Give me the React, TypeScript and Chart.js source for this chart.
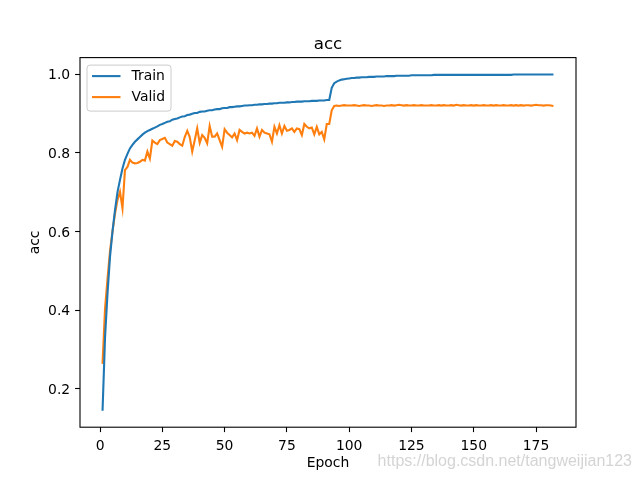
import React, { useEffect, useRef } from "react";
import { Chart, registerables } from "chart.js";

Chart.register(...registerables);

const chartTitle = "acc";
const xLabel = "Epoch";
const yLabel = "acc";
const seriesNames = ["Train", "Valid"];
const xTicks = [0, 25, 50, 75, 100, 125, 150, 175];
const yTicks = [0.2, 0.4, 0.6, 0.8, 1.0];
const watermark = "https://blog.csdn.net/tangweijian123";

const trainAcc = [
  0.144, 0.33, 0.443, 0.536, 0.6, 0.654, 0.7, 0.731, 0.76, 0.782,
  0.797, 0.811, 0.82, 0.828, 0.834, 0.84, 0.846, 0.851, 0.855, 0.858,
  0.861, 0.864, 0.867, 0.871, 0.873, 0.876, 0.879, 0.88, 0.884, 0.886,
  0.887, 0.89, 0.892, 0.893, 0.896, 0.897, 0.899, 0.901, 0.901, 0.904,
  0.905, 0.905, 0.907, 0.908, 0.908, 0.91, 0.911, 0.911, 0.913, 0.914,
  0.914, 0.916, 0.916, 0.917, 0.918, 0.918, 0.919, 0.92, 0.92, 0.921,
  0.921, 0.922, 0.922, 0.923, 0.923, 0.924, 0.924, 0.925, 0.925, 0.926,
  0.926, 0.927, 0.927, 0.927, 0.928, 0.928, 0.929, 0.929, 0.93, 0.93,
  0.93, 0.931, 0.931, 0.931, 0.932, 0.932, 0.932, 0.933, 0.933, 0.933,
  0.934, 0.934, 0.965, 0.977, 0.981, 0.984, 0.986, 0.987, 0.988, 0.989,
  0.99, 0.99, 0.991, 0.991, 0.992, 0.992, 0.992, 0.993, 0.993, 0.993,
  0.994, 0.994, 0.994, 0.994, 0.995, 0.995, 0.995, 0.995, 0.996, 0.996,
  0.996, 0.996, 0.996, 0.996, 0.997, 0.997, 0.997, 0.997, 0.997, 0.997,
  0.997, 0.997, 0.997, 0.998, 0.998, 0.998, 0.998, 0.998, 0.998, 0.998,
  0.998, 0.998, 0.998, 0.998, 0.998, 0.998, 0.998, 0.998, 0.998, 0.998,
  0.998, 0.998, 0.998, 0.998, 0.998, 0.998, 0.998, 0.998, 0.998, 0.998,
  0.998, 0.998, 0.998, 0.998, 0.998, 0.999, 0.999, 0.999, 0.999, 0.999,
  0.999, 0.999, 0.999, 0.999, 0.999, 0.999, 0.999, 0.999, 0.999, 0.999,
  0.999, 0.999,
];

const validAcc = [
  0.263, 0.404, 0.48, 0.55, 0.6, 0.645, 0.68, 0.701, 0.659, 0.756,
  0.764, 0.782, 0.775, 0.773, 0.774, 0.777, 0.782, 0.78, 0.803, 0.785,
  0.831, 0.826, 0.822, 0.832, 0.835, 0.838, 0.826, 0.822, 0.818, 0.83,
  0.828, 0.822, 0.818, 0.84, 0.856, 0.84, 0.803, 0.832, 0.862, 0.825,
  0.845, 0.838, 0.824, 0.868, 0.841, 0.841, 0.849, 0.832, 0.815, 0.86,
  0.851, 0.845, 0.839, 0.849, 0.832, 0.858, 0.853, 0.849, 0.851, 0.849,
  0.851, 0.843, 0.862, 0.841, 0.858, 0.851, 0.849, 0.847, 0.828, 0.866,
  0.849, 0.87, 0.849, 0.868, 0.856, 0.858, 0.862, 0.853, 0.862, 0.86,
  0.845, 0.873, 0.866, 0.862, 0.864, 0.847, 0.866, 0.847, 0.853, 0.834,
  0.873, 0.873, 0.908, 0.919, 0.92, 0.919, 0.92, 0.921, 0.92, 0.92,
  0.92, 0.921, 0.92, 0.919, 0.92, 0.921, 0.92, 0.92, 0.919, 0.92,
  0.921, 0.92, 0.92, 0.919, 0.92, 0.92, 0.921, 0.92, 0.921, 0.922,
  0.921, 0.92, 0.921, 0.92, 0.92, 0.921, 0.92, 0.92, 0.921, 0.92,
  0.92, 0.92, 0.921, 0.92, 0.92, 0.921, 0.92, 0.921, 0.92, 0.92,
  0.921, 0.92, 0.922, 0.921, 0.92, 0.921, 0.92, 0.92, 0.921, 0.92,
  0.921, 0.92, 0.92, 0.921, 0.92, 0.92, 0.921, 0.92, 0.921, 0.92,
  0.92, 0.921, 0.92, 0.92, 0.921, 0.92, 0.921, 0.92, 0.921, 0.92,
  0.921, 0.921, 0.92, 0.921, 0.922, 0.921, 0.921, 0.92, 0.921, 0.921,
  0.92, 0.919,
];

const colors = ["#1f77b4", "#ff7f0e"];
const FONT = "'DejaVu Sans', sans-serif";

const decorPlugin = {
  id: "decor",
  afterDraw(chart: any) {
    const { ctx, chartArea } = chart;
    const { left, right, top, bottom } = chartArea;
    ctx.save();
    // frame
    ctx.strokeStyle = "#000";
    ctx.lineWidth = 1.1;
    ctx.strokeRect(left, top, right - left, bottom - top);
    // title
    ctx.fillStyle = "#000";
    ctx.font = `16.7px ${FONT}`;
    ctx.textAlign = "center";
    ctx.textBaseline = "alphabetic";
    ctx.fillText(chartTitle, (left + right) / 2, top - 8.5);
    // x label
    ctx.font = `13.9px ${FONT}`;
    ctx.textBaseline = "middle";
    ctx.fillText(xLabel, (left + right) / 2, 463);
    // y label
    ctx.save();
    ctx.translate(35, (top + bottom) / 2);
    ctx.rotate(-Math.PI / 2);
    ctx.fillText(yLabel, 0, 0);
    ctx.restore();
    // legend
    const bx = left + 7, by = top + 7.5, bw = 84, bh = 46, r = 3;
    ctx.beginPath();
    ctx.moveTo(bx + r, by);
    ctx.lineTo(bx + bw - r, by);
    ctx.quadraticCurveTo(bx + bw, by, bx + bw, by + r);
    ctx.lineTo(bx + bw, by + bh - r);
    ctx.quadraticCurveTo(bx + bw, by + bh, bx + bw - r, by + bh);
    ctx.lineTo(bx + r, by + bh);
    ctx.quadraticCurveTo(bx, by + bh, bx, by + bh - r);
    ctx.lineTo(bx, by + r);
    ctx.quadraticCurveTo(bx, by, bx + r, by);
    ctx.closePath();
    ctx.fillStyle = "rgba(255,255,255,0.8)";
    ctx.fill();
    ctx.strokeStyle = "#cccccc";
    ctx.lineWidth = 1;
    ctx.stroke();
    ctx.textAlign = "left";
    ctx.textBaseline = "middle";
    seriesNames.forEach((name, i) => {
      const yy = by + 11 + i * 21;
      ctx.strokeStyle = colors[i];
      ctx.lineWidth = 2.1;
      ctx.beginPath();
      ctx.moveTo(bx + 5, yy);
      ctx.lineTo(bx + 33.5, yy);
      ctx.stroke();
      ctx.fillStyle = "#000";
      ctx.font = `13.9px ${FONT}`;
      ctx.fillText(name, bx + 44.5, yy + 0.5);
    });
    // watermark
    ctx.font = `16px 'Liberation Sans', Arial, sans-serif`;
    ctx.fillStyle = "rgba(205,205,205,0.85)";
    ctx.textAlign = "right";
    ctx.textBaseline = "middle";
    ctx.fillText(watermark, 632, 462);
    ctx.restore();
  },
};

export default function App() {
  const canvasRef = useRef<HTMLCanvasElement | null>(null);

  useEffect(() => {
    document.body.style.margin = "0";
    const canvas = canvasRef.current!;
    const chart = new Chart(canvas, {
      type: "line",
      data: {
        datasets: [trainAcc, validAcc].map((arr, k) => ({
          label: seriesNames[k],
          data: arr.map((v, i) => ({ x: i + 1, y: v })),
          borderColor: colors[k],
          backgroundColor: colors[k],
          borderWidth: 2.1,
          pointRadius: 0,
          tension: 0,
          fill: false,
        })),
      },
      options: {
        responsive: false,
        animation: false,
        devicePixelRatio: 1,
        layout: { padding: { top: 57.6, right: 64, left: 0, bottom: 0 } },
        plugins: {
          legend: { display: false },
          title: { display: false },
          tooltip: { enabled: false },
        },
        scales: {
          x: {
            type: "linear",
            min: -8.05,
            max: 191.05,
            afterFit: (s: any) => {
              s.height = 52.8;
            },
            afterBuildTicks: (s: any) => {
              s.ticks = xTicks.map((v) => ({ value: v }));
            },
            border: { display: false },
            grid: {
              drawOnChartArea: false,
              drawTicks: true,
              tickLength: 4.9,
              tickColor: "#000",
              tickWidth: 1.1,
            },
            ticks: {
              color: "#000",
              font: { family: FONT, size: 13.9 },
              padding: 5.5,
              maxRotation: 0,
              autoSkip: false,
              callback: (v: any) => String(v),
            },
          },
          y: {
            type: "linear",
            min: 0.102,
            max: 1.042,
            afterFit: (s: any) => {
              s.width = 80;
            },
            afterBuildTicks: (s: any) => {
              s.ticks = yTicks.map((v) => ({ value: v }));
            },
            border: { display: false },
            grid: {
              drawOnChartArea: false,
              drawTicks: true,
              tickLength: 4.9,
              tickColor: "#000",
              tickWidth: 1.1,
            },
            ticks: {
              color: "#000",
              font: { family: FONT, size: 13.9 },
              padding: 4.9,
              labelOffset: 1.5,
              autoSkip: false,
              callback: (v: any) => Number(v).toFixed(1),
            },
          },
        },
      },
      plugins: [decorPlugin],
    } as any);
    return () => chart.destroy();
  }, []);

  return (
    <div style={{ width: 640, height: 480, background: "#fff" }}>
      <canvas ref={canvasRef} width={640} height={480} style={{ display: "block" }} />
    </div>
  );
}
